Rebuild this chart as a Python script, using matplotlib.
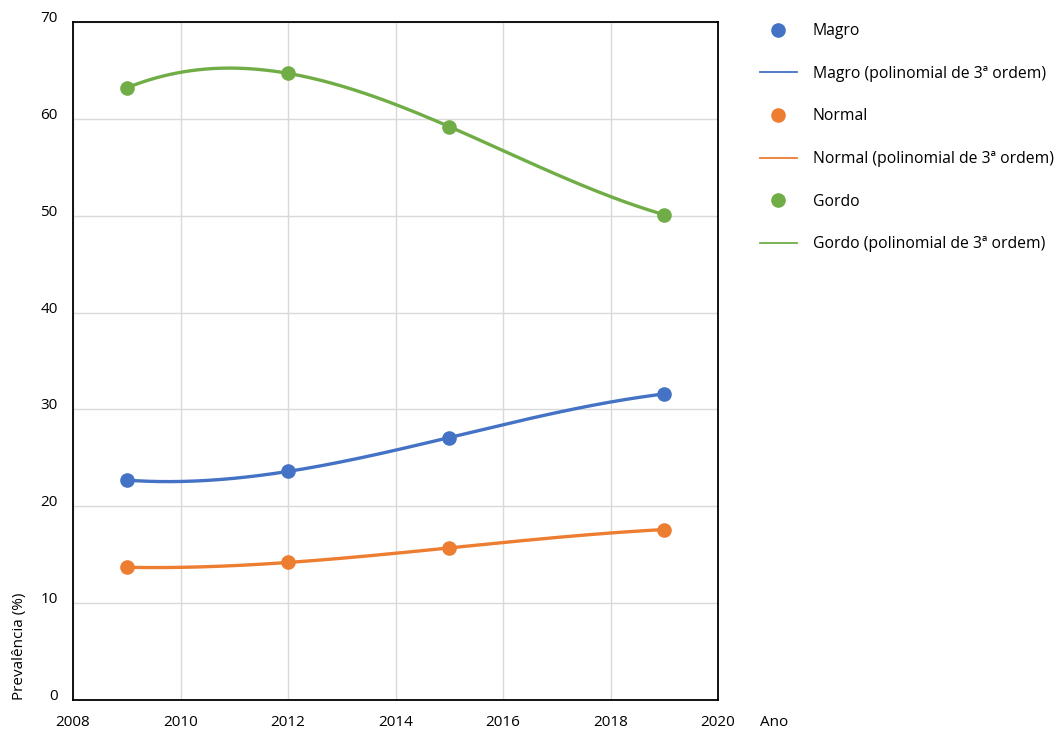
import matplotlib
matplotlib.use("Agg")
import matplotlib.pyplot as plt
import matplotlib.transforms as mtransforms
from matplotlib.lines import Line2D
import numpy as np

plt.rcParams["font.family"] = ["Open Sans", "DejaVu Sans"]
plt.rcParams["font.size"] = 11.3

years = [2009, 2012, 2015, 2019]
magro = [22.7, 23.6, 27.1, 31.6]
normal = [13.7, 14.2, 15.7, 17.6]
gordo = [63.2, 64.7, 59.2, 50.1]

series = [
    ("Magro", magro, "#4472C4"),
    ("Normal", normal, "#ED7D31"),
    ("Gordo", gordo, "#70AD47"),
]

x_ticks = [2008, 2010, 2012, 2014, 2016, 2018, 2020]
y_ticks = [0, 10, 20, 30, 40, 50, 60, 70]

fig = plt.figure(figsize=(10.56, 7.29), dpi=100)
ax = fig.add_axes([73 / 1056, 1 - 700 / 729, 645 / 1056, 678 / 729])

# 3rd-order polynomial trendline per series, drawn between first and last year
x_fit = np.linspace(years[0], years[-1], 300)
handles = []
labels = []
for name, values, color in series:
    coeffs = np.polyfit(years, values, 3)
    ax.plot(x_fit, np.polyval(coeffs, x_fit), color=color, linewidth=2.4, zorder=3)
    ax.plot(years, values, "o", color=color, markersize=9.5, zorder=4)
    handles.append(Line2D([], [], marker="o", linestyle="none", color=color, markersize=9.5))
    labels.append(name)
    handles.append(Line2D([], [], color=color, linewidth=1.3))
    labels.append(f"{name} (polinomial de 3ª ordem)")

ax.set_xlim(2008, 2020)
ax.set_ylim(0, 70)
ax.set_xticks(x_ticks, [str(t) for t in x_ticks])
ax.set_yticks(y_ticks, [str(t) for t in y_ticks], va="baseline")
ax.tick_params(length=0, labelsize=11, pad=11)
ax.grid(True, color="#d9d9d9", linewidth=1)
ax.set_axisbelow(True)
for spine in ax.spines.values():
    spine.set_color("black")
    spine.set_linewidth(1.3)

ax.set_ylabel("Prevalência (%)", ha="left", fontsize=11)
ax.yaxis.set_label_coords(-0.071, 0)

ano_tr = mtransforms.offset_copy(ax.transAxes, fig=fig, x=42, y=-15, units="dots")
ax.text(1.0, 0.0, "Ano", transform=ano_tr, ha="left", va="top", fontsize=11)

fig.legend(handles, labels, loc="upper left", bbox_to_anchor=(760 / 1056, 1 - 23 / 729),
           frameon=False, fontsize=11.3, labelspacing=1.7, handlelength=2.35,
           handletextpad=1.0, borderaxespad=0, borderpad=0)

fig.savefig("out.png", dpi=100)
